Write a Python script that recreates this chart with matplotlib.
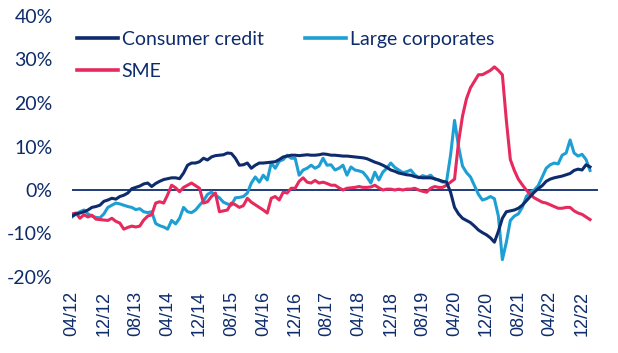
import numpy as np
import matplotlib
matplotlib.use("Agg")
import matplotlib.pyplot as plt
from matplotlib.lines import Line2D

# monthly values, 04/2012 .. 02/2023 (% y/y)
consumer_credit = [
    -6.0, -5.5, -5.3, -5.0, -4.6, -4.0, -3.8, -3.5, -2.6, -2.3,
    -1.9, -2.1, -1.5, -1.2, -0.7, 0.3, 0.6, 0.9, 1.4, 1.6,
    0.8, 1.5, 2.0, 2.4, 2.6, 2.8, 2.8, 2.6, 3.9, 5.7,
    6.2, 6.2, 6.5, 7.3, 6.9, 7.6, 7.9, 8.0, 8.1, 8.5,
    8.4, 7.3, 5.7, 5.8, 6.2, 5.0, 5.7, 6.2, 6.2, 6.3,
    6.4, 6.5, 7.0, 7.6, 7.8, 8.0, 8.0, 7.9, 8.0, 8.1,
    8.0, 8.0, 8.1, 8.3, 8.2, 8.0, 8.0, 7.9, 7.8, 7.8,
    7.7, 7.6, 7.5, 7.4, 7.2, 6.8, 6.4, 6.1, 5.7, 5.2,
    4.6, 4.3, 3.9, 3.7, 3.5, 3.4, 3.1, 2.9, 2.8, 2.8,
    2.8, 2.6, 2.3, 2.0, 1.8, -0.5, -4.0, -5.5, -6.5, -7.0,
    -7.5, -8.3, -9.2, -9.8, -10.3, -11.0, -12.0, -9.5, -6.5, -5.0,
    -4.8, -4.6, -4.2, -3.5, -2.5, -1.5, -0.5, 0.3, 1.0, 2.0,
    2.5, 2.8, 3.0, 3.2, 3.5, 3.8, 4.5, 4.8, 4.6, 5.8,
    5.3,
]
large_corporates = [
    -6.2, -5.5, -5.0, -4.6, -5.5, -6.0, -6.3, -6.4, -5.5, -4.0,
    -3.5, -3.0, -3.2, -3.5, -3.8, -4.0, -4.5, -4.3, -5.0, -5.2,
    -5.0, -7.7, -8.2, -8.5, -9.0, -7.0, -7.8, -6.5, -4.0, -5.0,
    -5.2, -4.6, -3.5, -2.5, -1.0, -0.5, -1.2, -1.8, -2.8, -3.2,
    -3.5, -1.8, -1.7, -1.5, -0.7, 1.6, 3.0, 1.8, 3.4, 2.3,
    6.2, 5.0, 6.6, 7.0, 8.0, 7.3, 7.3, 3.4, 4.6, 5.0,
    5.7, 5.0, 5.5, 7.3, 5.7, 5.8, 4.6, 5.0, 5.7, 3.4,
    5.3, 4.6, 4.4, 4.1, 3.0, 1.6, 4.1, 2.3, 4.1, 5.0,
    6.2, 5.2, 4.6, 4.0, 4.2, 4.6, 3.5, 2.8, 3.3, 3.0,
    3.4, 2.5, 2.3, 1.8, 2.0, 8.0, 16.0, 10.0, 5.5, 4.0,
    3.0, 1.0, -1.0, -2.3, -2.0, -1.5, -2.0, -6.0, -16.0, -12.0,
    -7.0, -6.0, -5.5, -4.0, -1.5, -0.5, 0.0, 1.0, 3.0, 5.0,
    5.8, 6.2, 6.0, 8.0, 8.5, 11.5, 8.5, 7.8, 8.2, 7.0,
    4.5,
]
sme = [
    -5.5, -5.3, -6.5, -5.7, -6.2, -5.8, -6.7, -6.8, -6.9, -7.0,
    -6.5, -7.2, -7.6, -9.0, -8.6, -8.3, -8.5, -8.3, -6.9, -6.0,
    -5.7, -3.0, -2.7, -3.0, -1.1, 1.1, 0.5, -0.4, 0.6, 1.1,
    1.6, 1.0, 0.4, -3.0, -2.7, -1.5, -0.7, -5.0, -4.8, -4.6,
    -3.0, -3.4, -4.0, -3.6, -1.9, -2.8, -3.4, -4.0, -4.6, -5.3,
    -1.9, -1.5, -2.3, -0.5, -0.7, 0.4, 0.4, 2.0, 2.8, 1.8,
    1.6, 2.2, 1.6, 1.8, 1.5, 1.1, 1.1, 0.5, 0.0, 0.4,
    0.5, 0.6, 0.8, 0.6, 0.6, 0.7, 1.1, 0.5, 0.0, 0.2,
    0.2, 0.0, 0.2, 0.0, 0.2, 0.2, 0.4, 0.0, -0.3, -0.5,
    0.4, 0.8, 0.6, 0.6, 1.1, 1.8, 2.5, 11.0, 17.0, 21.0,
    23.5, 25.0, 26.5, 26.5, 27.0, 27.5, 28.3, 27.5, 26.5, 16.0,
    7.0, 4.5, 2.5, 1.2, 0.0, -1.0, -1.8, -2.3, -2.8, -3.0,
    -3.4, -3.8, -4.2, -4.2, -4.0, -4.0, -4.8, -5.3, -5.6, -6.2,
    -6.8,
]
tick_labels = ["04/12", "12/12", "08/13", "04/14", "12/14", "08/15", "04/16",
               "12/16", "08/17", "04/18", "12/18", "08/19", "04/20", "12/20",
               "08/21", "04/22", "12/22"]

navy = "#0e2c6c"
light = "#1e9fd3"
red = "#e62a5e"

plt.rcParams["font.family"] = ["Lato", "DejaVu Sans"]

fig = plt.figure(figsize=(6.18, 3.53), dpi=100)
ax = fig.add_axes([72 / 618, 1 - 277 / 353, 526 / 618, 261 / 353])

x = np.arange(len(consumer_credit))
ax.plot(x, large_corporates, color=light, lw=2.2)
ax.plot(x, sme, color=red, lw=2.2)
ax.plot(x, consumer_credit, color=navy, lw=2.2)
ax.axhline(0, color=navy, lw=1.3, zorder=0)

ax.set_xlim(0, 132)
ax.set_ylim(-20, 40)
ax.set_yticks(np.arange(-20, 41, 10))
ax.set_yticklabels([f"{v}%" for v in range(-20, 41, 10)], fontsize=14)
ax.set_xticks(np.arange(0, 8 * len(tick_labels), 8))
ax.set_xticklabels(tick_labels, rotation=90, family=["Liberation Sans"],
                   fontsize=13)
ax.tick_params(axis="both", length=0, labelcolor=navy)
ax.tick_params(axis="y", pad=14)
ax.tick_params(axis="x", pad=10)
for s in ax.spines.values():
    s.set_visible(False)

h_cc = Line2D([], [], color=navy, lw=2.6)
h_sme = Line2D([], [], color=red, lw=2.6)
h_lc = Line2D([], [], color=light, lw=2.6)
kw = dict(frameon=False, loc="upper left", borderpad=0, borderaxespad=0,
          handlelength=2.1, handletextpad=0.2, labelspacing=0.75,
          fontsize=14, labelcolor=navy)
leg1 = ax.legend([h_cc, h_sme], ["Consumer credit", "SME"],
                 bbox_to_anchor=(77 / 618, 1 - 31 / 353),
                 bbox_transform=fig.transFigure, **kw)
ax.add_artist(leg1)
ax.legend([h_lc], ["Large corporates"],
          bbox_to_anchor=(305 / 618, 1 - 31 / 353),
          bbox_transform=fig.transFigure, **kw)

fig.savefig("out.png", dpi=100)
